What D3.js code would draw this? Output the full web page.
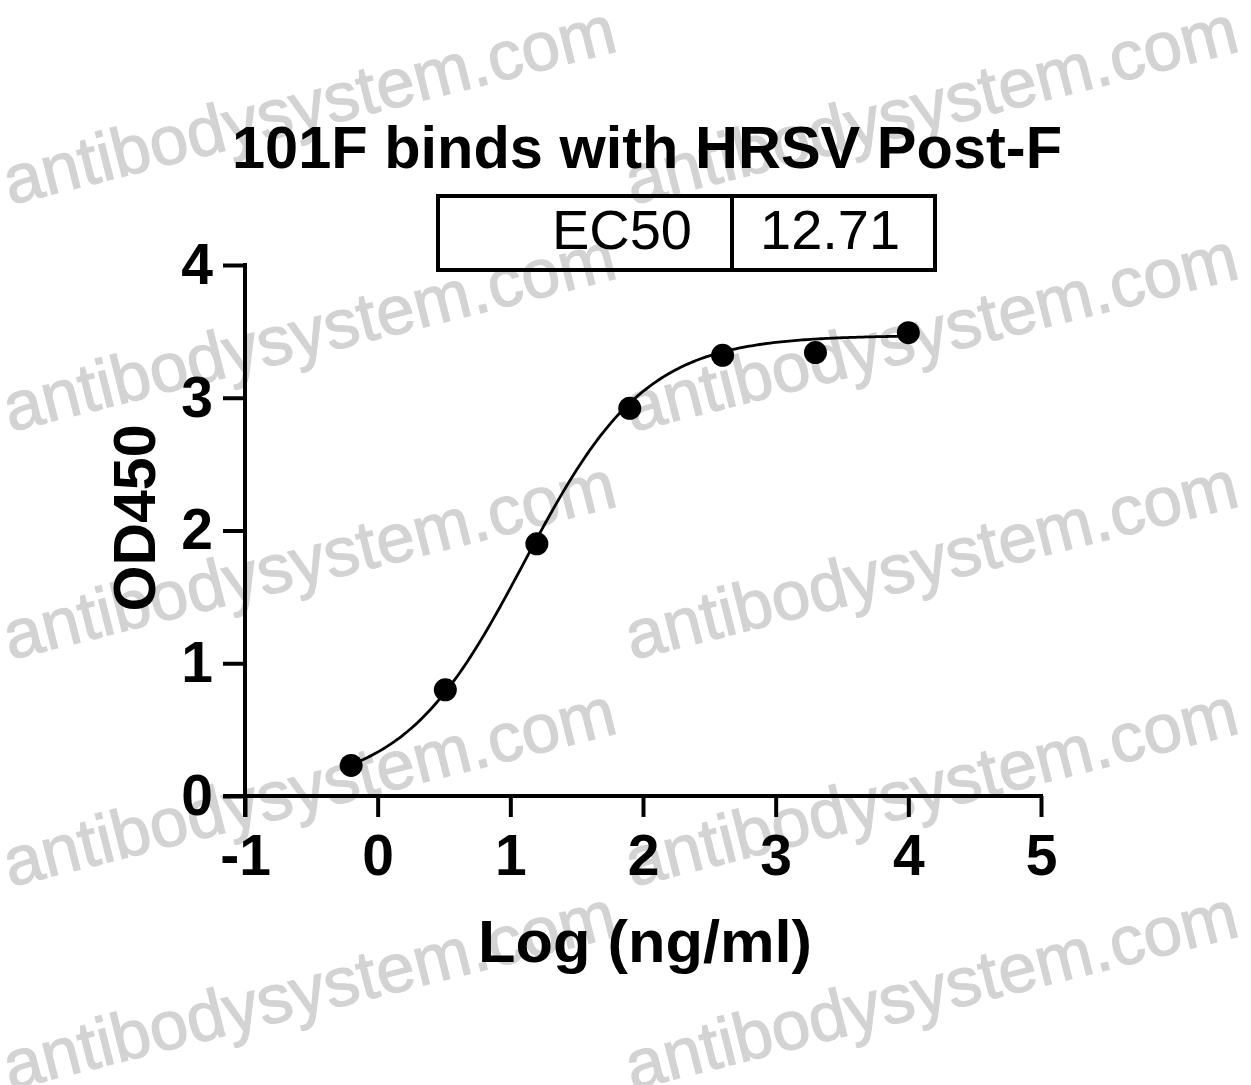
<!DOCTYPE html>
<html>
<head>
<meta charset="utf-8">
<script src="https://d3js.org/d3.v7.min.js"></script>
<style>
body { margin: 0; background: #fff; }
text { font-family: "Liberation Sans", Arial, sans-serif; }
</style>
</head>
<body>
<svg width="1251" height="1085"></svg>
<script>
// data
var logConc = [-0.2, 0.51, 1.2, 1.9, 2.6, 3.3, 4.0];
var od450 = [0.23, 0.80, 1.90, 2.92, 3.32, 3.34, 3.49];
var xTicks = [-1, 0, 1, 2, 3, 4, 5];
var yTicks = [0, 1, 2, 3, 4];
var ec50 = 12.71;
// 4PL fit parameters
var fitBottom = 0.05, fitTop = 3.47, fitHill = 0.95;

var svg = d3.select("svg");

var x = d3.scaleLinear().domain([-1, 5]).range([245, 1041]);
var y = d3.scaleLinear().domain([0, 4]).range([796, 265]);

// watermark
var wm = svg.append("g").attr("fill", "#d3d3d3")
    .attr("stroke", "#d3d3d3").attr("stroke-width", 1.2);
[10, 632].forEach(function(cx) {
  [205, 432, 660, 887, 1090].forEach(function(cy) {
    wm.append("text")
      .attr("transform", "translate(" + cx + "," + cy + ") rotate(-14.2)")
      .attr("font-size", 69)
      .text("antibodysystem.com");
  });
});

svg.append("text")
    .attr("x", 647)
    .attr("y", 168)
    .attr("text-anchor", "middle")
    .attr("font-size", 59)
    .attr("font-weight", "bold")
    .attr("textLength", 830)
    .attr("lengthAdjust", "spacingAndGlyphs")
    .text("101F binds with HRSV Post-F");

// EC50 table
var tb = svg.append("g");
tb.append("rect")
    .attr("x", 438).attr("y", 196)
    .attr("width", 497).attr("height", 74)
    .attr("fill", "none").attr("stroke", "#000").attr("stroke-width", 4);
tb.append("line")
    .attr("x1", 732).attr("x2", 732).attr("y1", 196).attr("y2", 270)
    .attr("stroke", "#000").attr("stroke-width", 4);
tb.append("text")
    .attr("x", 692).attr("y", 249)
    .attr("text-anchor", "end")
    .attr("font-size", 56)
    .text("EC50");
tb.append("text")
    .attr("x", 760).attr("y", 249)
    .attr("font-size", 56)
    .text(ec50.toFixed(2));

// axes
var gx = svg.append("g")
    .attr("transform", "translate(0,796)")
    .call(d3.axisBottom(x).tickValues(xTicks).tickFormat(String)
      .tickSize(21).tickSizeOuter(0).tickPadding(18));
var gy = svg.append("g")
    .attr("transform", "translate(245,0)")
    .call(d3.axisLeft(y).tickValues(yTicks).tickFormat(String)
      .tickSize(22).tickSizeOuter(0).tickPadding(10));

[gx, gy].forEach(function(g) {
  g.selectAll("path, line").attr("stroke", "#000").attr("stroke-width", 4);
  g.selectAll("text")
    .attr("fill", "#000")
    .attr("font-size", 57)
    .attr("font-weight", "bold")
    .attr("font-family", "Liberation Sans, Arial, sans-serif");
});
gx.select(".domain").attr("d", "M" + (x(-1) - 22) + ",0H" + (x(5) + 2));
gy.select(".domain").attr("d", "M0," + (y(4) - 2) + "V" + (796 + 21));

svg.append("text")
    .attr("x", 645)
    .attr("y", 962)
    .attr("text-anchor", "middle")
    .attr("font-size", 60)
    .attr("font-weight", "bold")
    .attr("textLength", 334)
    .attr("lengthAdjust", "spacingAndGlyphs")
    .text("Log (ng/ml)");

svg.append("text")
    .attr("transform", "translate(155,518) rotate(-90)")
    .attr("text-anchor", "middle")
    .attr("font-size", 59)
    .attr("font-weight", "bold")
    .text("OD450");

// fitted curve
var logEC = Math.log10(ec50);
var curve = d3.range(logConc[0], logConc[logConc.length - 1] + 0.001, 0.02).map(function(v) {
  return [v, fitBottom + (fitTop - fitBottom) / (1 + Math.pow(10, (logEC - v) * fitHill))];
});
svg.append("path")
    .datum(curve)
    .attr("fill", "none")
    .attr("stroke", "#000")
    .attr("stroke-width", 2.8)
    .attr("d", d3.line().x(function(d) { return x(d[0]); }).y(function(d) { return y(d[1]); }));

svg.append("g").selectAll("circle")
  .data(logConc.map(function(v, i) { return [v, od450[i]]; }))
  .enter().append("circle")
    .attr("cx", function(d) { return x(d[0]); })
    .attr("cy", function(d) { return y(d[1]); })
    .attr("r", 11.5)
    .attr("fill", "#000");
</script>
</body>
</html>
